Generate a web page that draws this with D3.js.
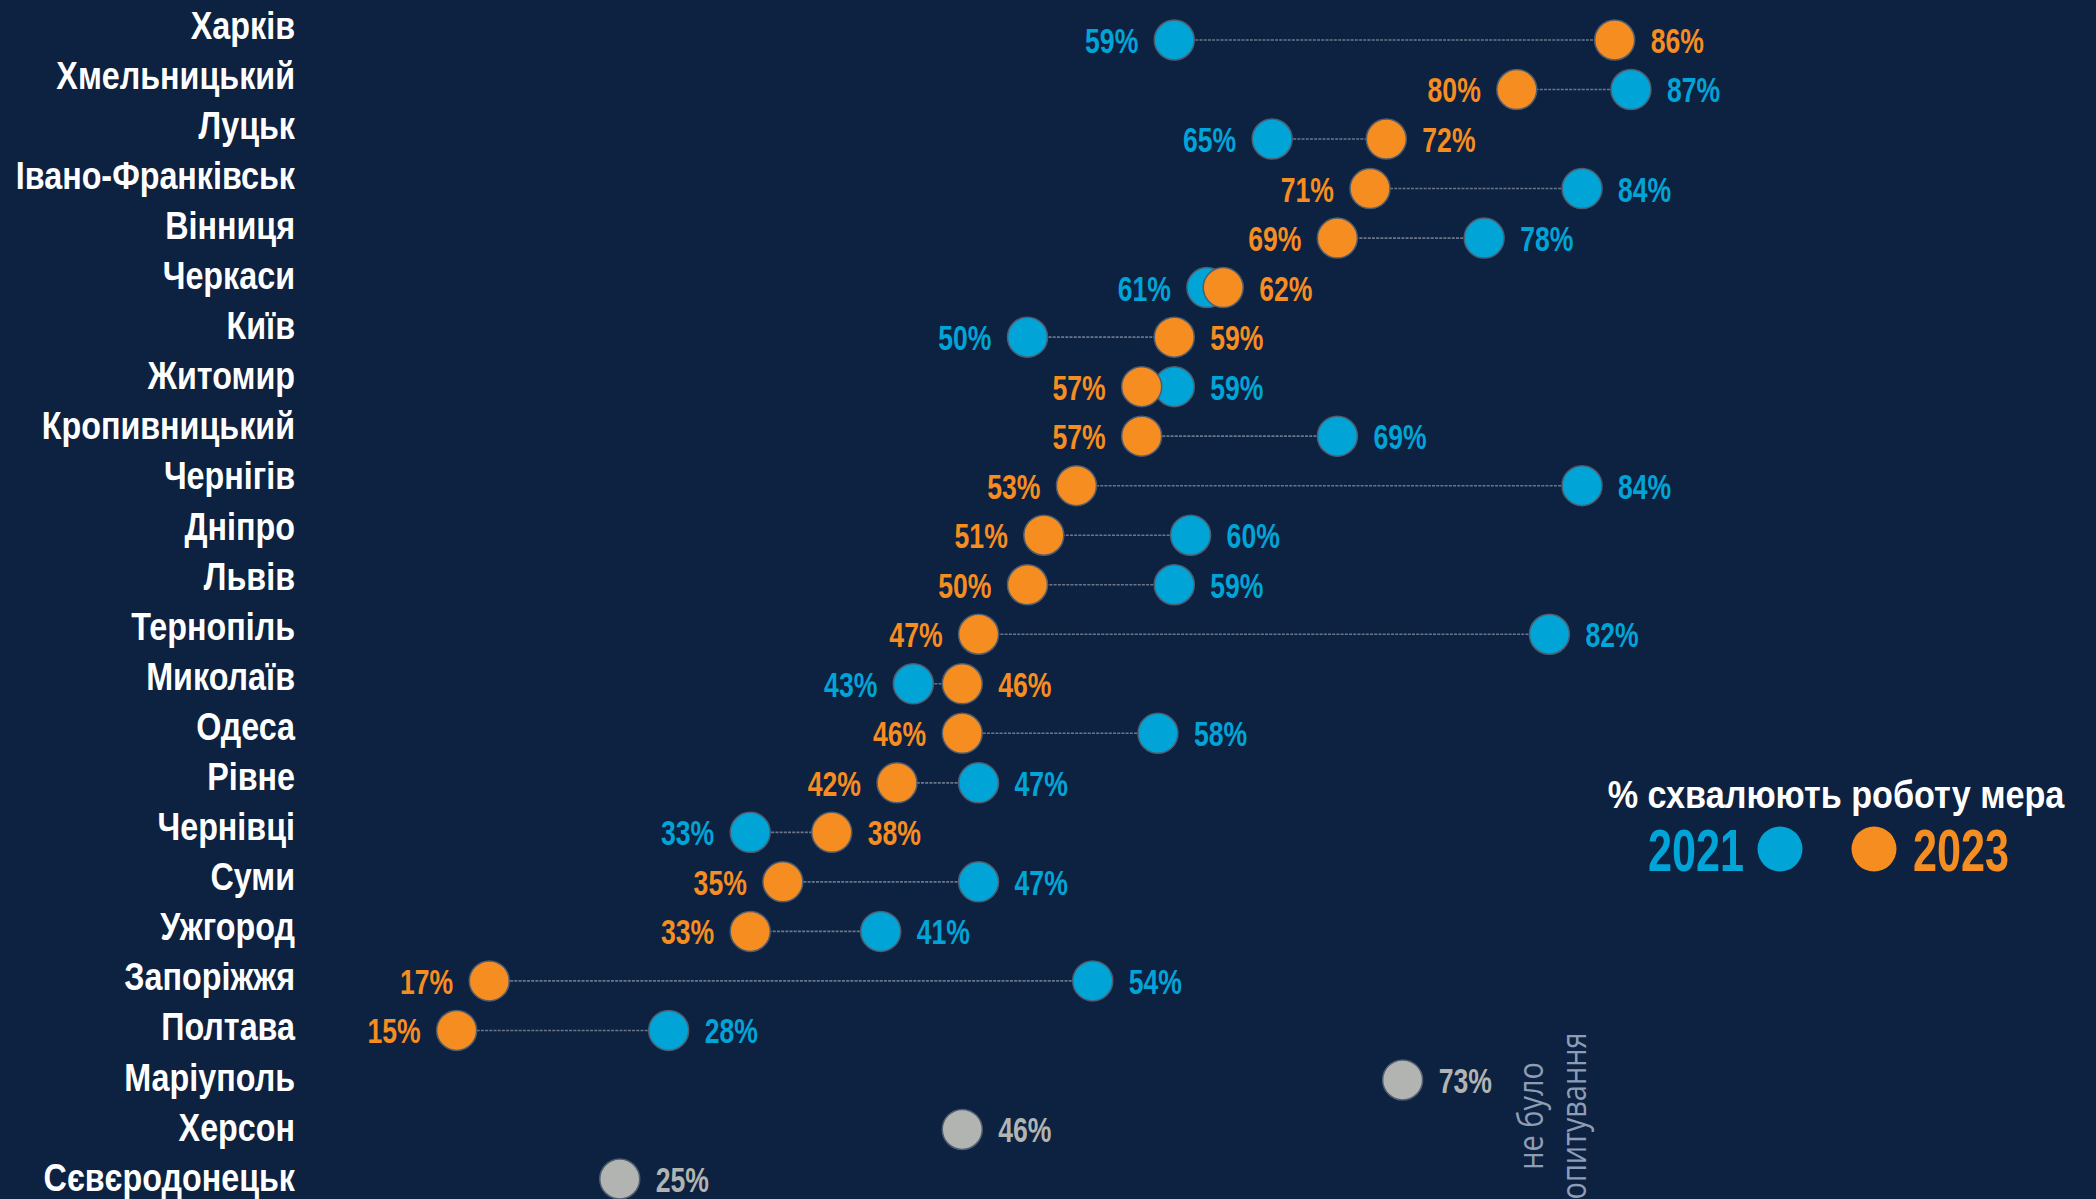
<!DOCTYPE html>
<html>
<head>
<meta charset="utf-8">
<script src="https://cdn.jsdelivr.net/npm/d3@7"></script>
<style>
  html, body { margin: 0; padding: 0; background: #0d2140; }
  svg { display: block; }
</style>
</head>
<body>
<svg id="chart" width="2096" height="1199"></svg>
<script>
(() => {

    // rows top to bottom
    const cities = ['Харків', 'Хмельницький', 'Луцьк', 'Івано-Франківськ', 'Вінниця', 'Черкаси',
        'Київ', 'Житомир', 'Кропивницький', 'Чернігів', 'Дніпро', 'Львів', 'Тернопіль',
        'Миколаїв', 'Одеса', 'Рівне', 'Чернівці', 'Суми', 'Ужгород', 'Запоріжжя', 'Полтава',
        'Маріуполь', 'Херсон', 'Сєвєродонецьк'];

    const values2021 = [59, 87, 65, 84, 78, 61, 50, 59, 69, 84, 60, 59, 82, 43, 58, 47, 33, 47, 41, 54, 28,
        null, null, null];
    const values2023 = [86, 80, 72, 71, 69, 62, 59, 57, 57, 53, 51, 50, 47, 46, 46, 42, 38, 35, 33, 17, 15,
        null, null, null];
    // cities with no survey in 2023
    const valuesNoSurvey = [null, null, null, null, null, null, null, null, null, null, null, null, null,
        null, null, null, null, null, null, null, null, 73, 46, 25];

    const legendYears = ['2021', '2023'];
    const legendTitle = '% схвалюють роботу мера';
    const noSurveyNote = ['не було', 'опитування'];

    const blue = '#00a4d6',
            orange = '#f68d20',
            grey = '#b2b4b2';

    const sans = '"Liberation Sans", Arial, sans-serif';

    const svg = d3.select('#chart');

    svg.append('rect')
            .attr('width', 2096)
            .attr('height', 1199)
            .attr('fill', '#0d2140');

    const x = d3.scaleLinear().domain([0, 100]).range([212, 1843]);
    const y = d3.scalePoint().domain(cities).range([40, 1179]);
    const yLabel = d3.scalePoint().domain(cities).range([25, 1177]);
    const r = 20;

    // condensed look: squeeze the text horizontally around its anchor
    const squeeze = (sx, px, py) => `translate(${px},${py}) scale(${sx},1)`;

    const rows = cities.map((c, i) => ({
        city: c,
        a: values2021[i],
        b: values2023[i],
        n: valuesNoSurvey[i]
    }));

    // city names
    svg.append('g')
            .selectAll('text')
            .data(rows)
            .enter().append('text')
            .attr('transform', d => squeeze(0.85, 295, yLabel(d.city)))
            .attr('dy', '0.36em')
            .attr('text-anchor', 'end')
            .attr('fill', '#ffffff')
            .attr('font-family', sans)
            .attr('font-weight', 'bold')
            .attr('font-size', 38)
            .text(d => d.city);

    const paired = rows.filter(d => d.a !== null && d.b !== null);

    // dotted connectors
    svg.append('g')
            .selectAll('line')
            .data(paired)
            .enter().append('line')
            .attr('x1', d => x(d.a))
            .attr('x2', d => x(d.b))
            .attr('y1', d => y(d.city))
            .attr('y2', d => y(d.city))
            .attr('stroke', '#69768a')
            .attr('stroke-width', 1.6)
            .attr('stroke-dasharray', '3,1.2');

    const dots = [];
    paired.forEach(d => {
        dots.push({city: d.city, v: d.a, color: blue, left: d.a <= d.b});
    });
    paired.forEach(d => {
        dots.push({city: d.city, v: d.b, color: orange, left: d.b < d.a});
    });
    rows.filter(d => d.n !== null).forEach(d => {
        dots.push({city: d.city, v: d.n, color: grey, left: false});
    });

    svg.append('g')
            .selectAll('circle')
            .data(dots)
            .enter().append('circle')
            .attr('cx', d => x(d.v))
            .attr('cy', d => y(d.city))
            .attr('r', r)
            .attr('fill', d => d.color)
            .attr('stroke', '#4f5d70')
            .attr('stroke-width', 1.5);

    // percentage labels
    svg.append('g')
            .selectAll('text')
            .data(dots)
            .enter().append('text')
            .attr('transform', d => squeeze(0.76, d.left ? x(d.v) - 36 : x(d.v) + 36, y(d.city)))
            .attr('dy', '0.37em')
            .attr('text-anchor', d => d.left ? 'end' : 'start')
            .attr('fill', d => d.color)
            .attr('font-family', sans)
            .attr('font-weight', 'bold')
            .attr('font-size', 35)
            .text(d => d.v + '%');

    // legend
    const legend = svg.append('g');

    legend.append('text')
            .attr('transform', squeeze(0.9, 1836, 808))
            .attr('text-anchor', 'middle')
            .attr('fill', '#ffffff')
            .attr('font-family', sans)
            .attr('font-weight', 'bold')
            .attr('font-size', 38)
            .text(legendTitle);

    const legendItems = [
        {year: legendYears[0], color: blue, cx: 1780, tx: 1744, anchor: 'end'},
        {year: legendYears[1], color: orange, cx: 1874, tx: 1913, anchor: 'start'}
    ];

    legend.selectAll('circle')
            .data(legendItems)
            .enter().append('circle')
            .attr('cx', d => d.cx)
            .attr('cy', 849)
            .attr('r', 22.5)
            .attr('fill', d => d.color);

    legend.selectAll('text.year')
            .data(legendItems)
            .enter().append('text')
            .attr('class', 'year')
            .attr('transform', d => squeeze(0.72, d.tx, 871))
            .attr('text-anchor', d => d.anchor)
            .attr('fill', d => d.color)
            .attr('font-family', sans)
            .attr('font-weight', 'bold')
            .attr('font-size', 60)
            .text(d => d.year);

    // vertical note
    svg.append('g')
            .selectAll('text')
            .data(noSurveyNote)
            .enter().append('text')
            .attr('transform', (d, i) => `translate(${1543 + i * 43},1116) rotate(-90) scale(0.85,1)`)
            .attr('text-anchor', 'middle')
            .attr('fill', '#8d9db5')
            .attr('font-family', '"Open Sans", sans-serif')
            .attr('font-size', 34)
            .text(d => d);

})();
</script>
</body>
</html>
